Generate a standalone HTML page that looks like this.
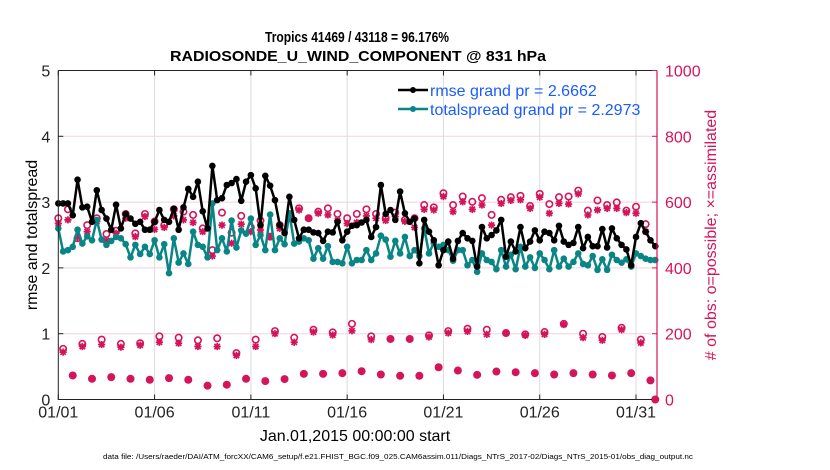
<!DOCTYPE html>
<html><head><meta charset="utf-8">
<style>
html,body{margin:0;padding:0;background:#fff;}
svg{display:block;font-family:"Liberation Sans",sans-serif;}
</style></head>
<body>
<svg id="chart" width="830" height="470" viewBox="0 0 830 470" xmlns="http://www.w3.org/2000/svg">
  <text x="357" y="42" text-anchor="middle" font-size="15" font-weight="bold" textLength="184" lengthAdjust="spacingAndGlyphs">Tropics 41469 / 43118 = 96.176%</text>
  <text x="358" y="61" text-anchor="middle" font-size="15" font-weight="bold" textLength="376" lengthAdjust="spacingAndGlyphs">RADIOSONDE_U_WIND_COMPONENT @ 831 hPa</text>
  <g id="grid"></g>
  <g id="series"></g>
  <g id="axes"></g>
  <text transform="translate(37,235) rotate(-90)" text-anchor="middle" font-size="16">rmse and totalspread</text>
  <text transform="translate(716,235) rotate(-90)" text-anchor="middle" font-size="16" fill="#d4145a">#  of obs: o=possible; ×=assimilated</text>
  <text x="355" y="441" text-anchor="middle" font-size="16">Jan.01,2015 00:00:00 start</text>
  <text x="398" y="459" text-anchor="middle" font-size="7.5" textLength="590" lengthAdjust="spacingAndGlyphs">data file: /Users/raeder/DAI/ATM_forcXX/CAM6_setup/f.e21.FHIST_BGC.f09_025.CAM6assim.011/Diags_NTrS_2017-02/Diags_NTrS_2015-01/obs_diag_output.nc</text>
  <g id="legend">
    <g>
      <line x1="398" y1="90" x2="428" y2="90" stroke="#000" stroke-width="2.5"/>
      <circle cx="413" cy="90" r="3" fill="#000"/>
      <text x="430" y="96" font-size="16" fill="#1a5cff">rmse grand pr = 2.6662</text>
    </g>
    <g>
      <line x1="398" y1="109" x2="428" y2="109" stroke="#0a8585" stroke-width="2.5"/>
      <circle cx="413" cy="109" r="3" fill="#0a8585"/>
      <text x="430" y="115" font-size="16" fill="#1a5cff">totalspread grand pr = 2.2973</text>
    </g>
  </g>
</svg>
<script>
// ---- data (quarter-day steps: 00Z, 06Z, 12Z, 18Z; day 0 = 01/01) ----
const rmse = [2.98,2.98,2.98,2.80, 3.34,2.92,2.93,2.70, 3.18,2.88,2.75,2.58, 2.96,2.60,2.82,2.75,
 2.67,2.70,2.58,2.58, 2.70,2.88,2.73,2.70, 2.90,2.58,2.92,3.20, 3.08,3.31,2.86,2.60,
 3.55,3.03,3.06,3.26, 3.29,3.35,3.02,3.31, 3.41,3.21,2.65,3.40, 3.25,3.03,2.65,2.53,
 3.08,2.73,2.45,2.58, 2.58,2.54,2.53,2.41, 2.55,2.54,2.70,2.42, 2.55,2.64,2.65,2.69,
 2.73,2.47,2.62,3.26, 2.82,2.88,2.73,3.16, 2.83,2.70,2.75,2.07, 2.73,2.55,2.42,2.04,
 2.27,2.40,2.14,2.41, 2.53,2.45,2.41,2.02, 2.62,2.45,2.50,2.57, 2.73,2.17,2.40,2.25,
 2.62,2.30,2.40,2.57, 2.42,2.55,2.53,2.42, 2.64,2.40,2.35,2.38, 2.62,2.30,2.47,2.33,
 2.33,2.59,2.31,2.60, 2.45,2.35,2.28,2.04, 2.47,2.68,2.55,2.42, 2.33];
const spread = [2.60,2.25,2.27,2.32, 2.58,2.37,2.48,2.42, 2.73,2.43,2.35,2.41, 2.47,2.45,2.36,2.16,
 2.35,2.21,2.32,2.21, 2.42,2.16,2.36,1.92, 2.45,2.08,2.22,2.06, 2.55,2.35,2.32,2.16,
 2.98,2.27,2.45,2.25, 2.72,2.31,2.57,2.52, 2.75,2.35,2.50,2.27, 2.81,2.27,2.45,2.36,
 2.83,2.37,2.40,2.45, 2.42,2.14,2.30,2.14, 2.33,2.09,2.09,2.07, 2.32,2.07,2.12,2.12,
 2.27,2.12,2.22,2.49, 2.43,2.17,2.41,2.22, 2.47,2.18,2.27,2.18, 2.60,2.22,2.38,2.32,
 2.35,2.27,2.11,2.27, 2.27,2.04,2.12,1.94, 2.22,2.12,2.09,1.98, 2.27,2.02,2.20,1.98,
 2.32,2.02,2.16,2.00, 2.22,2.12,1.98,2.27, 2.02,2.14,2.02,2.09, 2.22,2.06,2.04,2.18,
 1.97,2.13,1.97,2.20, 2.12,2.08,2.13,2.02, 2.22,2.18,2.14,2.12, 2.12];
// top band: 00Z and 12Z of each day
const topPossible = [551,578, 490,530, 551,503, 513,564, 505,564, 541,530, 578,571, 561,520, 454,568, 507,558,
 523,544, 495,530, 556,581, 551,571, 581,564, 551,564, 578,564, 551,568, 546,551, 591,584,
 627,591, 617,601, 612,561, 607,615, 619,588, 625,594, 615,617, 635,574, 605,591, 599,574, 586,533, 0];
const topAssim = [535,546, 493,510, 541,483, 505,551, 495,556, 517,523, 558,546, 538,510, 436,530, 475,533,
 510,515, 495,520, 551,576, 551,566, 561,544, 535,538, 558,551, 544,556, 541,523, 578,576,
 617,571, 601,578, 591,530, 596,605, 607,581, 615,566, 596,594, 625,561, 576,581, 581,568, 566,510, 0];
// 06Z of each day
const midPossible = [154,169,182,169,171,192,188,180,186,141,182,208,188,212,204,230,192,184,184,195,208,215,212,202,198,205,230,200,190,218,182];
const midAssim = [144,161,167,159,165,174,171,161,161,134,161,200,174,205,196,209,182,184,184,190,202,207,198,202,195,198,228,188,180,212,172];
// 18Z of each day
const lowPossible = [73,63,68,63,60,65,60,42,45,63,56,62,78,78,80,86,76,72,72,98,88,75,85,83,80,76,80,76,73,80,58];
const lowAssim = [73,63,68,63,60,65,60,42,45,63,56,62,78,78,80,86,76,72,72,98,88,75,85,83,80,76,80,76,73,80,58];
const xTickLabels = ["01/01","01/06","01/11","01/16","01/21","01/26","01/31"];
const xTickDays = [0,5,10,15,20,25,30];
const leftTicks = [0,1,2,3,4,5];
const rightTicks = [0,200,400,600,800,1000];

// ---- scales ----
const X0=58.3, X1=657, Y0=399.5, Y1=70.5, DMAX=31.09;
const MAG="#d4145a", TEAL="#0a8585";
function xs(d){return X0+(d/DMAX)*(X1-X0);}
function yl(v){return Y0-(v/5)*(Y0-Y1);}
function yr(v){return Y0-(v/1000)*(Y0-Y1);}
const NS="http://www.w3.org/2000/svg";
function mk(tag,attrs,parent){const e=document.createElementNS(NS,tag);for(const k in attrs)e.setAttribute(k,attrs[k]);parent.appendChild(e);return e;}
const grid=document.getElementById('grid'), series=document.getElementById('series'), axes=document.getElementById('axes');

// grid
xTickDays.forEach((d,i)=>{ if(i>0){const l=mk('line',{x1:xs(d),x2:xs(d),y1:Y1,y2:Y0,stroke:'#dcdcdc','stroke-width':1},grid);

}});
rightTicks.forEach((v,i)=>{ if(i>0&&i<rightTicks.length-1){const l=mk('line',{x1:X0,x2:X1,y1:yr(v),y2:yr(v),stroke:'#f0d3df','stroke-width':1},grid);

}});

// obs markers
function circ(x,y,name){const c=mk('circle',{cx:x,cy:y,r:3.2,fill:'none',stroke:MAG,'stroke-width':1.6},series);

}
function star(x,y,name){const s=3.6;const p=mk('path',{d:`M${x-s},${y}H${x+s}M${x},${y-s}V${y+s}M${x-2.7},${y-2.7}L${x+2.7},${y+2.7}M${x-2.7},${y+2.7}L${x+2.7},${y-2.7}`,stroke:MAG,'stroke-width':1.7},series);

}
topPossible.forEach((v,i)=>circ(xs(i*0.5),yr(v),'obs-possible-marker'));
topAssim.forEach((v,i)=>star(xs(i*0.5),yr(v),'obs-assimilated-marker'));
midPossible.forEach((v,i)=>circ(xs(i+0.25),yr(v),'obs-possible-marker'));
midAssim.forEach((v,i)=>star(xs(i+0.25),yr(v),'obs-assimilated-marker'));
lowPossible.forEach((v,i)=>circ(xs(i+0.75),yr(v),'obs-possible-marker'));
lowAssim.forEach((v,i)=>star(xs(i+0.75),yr(v),'obs-assimilated-marker'));

// lines
function drawLine(arr,color,name){
  const pts=arr.map((v,i)=>xs(i*0.25).toFixed(1)+','+yl(v).toFixed(1)).join(' ');
  const pl=mk('polyline',{points:pts,fill:'none',stroke:color,'stroke-width':2.5,'stroke-linejoin':'round'},series);
  
  
  arr.forEach((v,i)=>{const c=mk('circle',{cx:xs(i*0.25),cy:yl(v),r:3.3,fill:color},series);
    
    });
}
drawLine(spread,TEAL,'totalspread');
drawLine(rmse,'#000','rmse');

// axes
const bx=mk('path',{d:`M${X0},${Y1}V${Y0}H${X1}M${X0},${Y1}H${X1}`,fill:'none',stroke:'#222','stroke-width':1},axes);


const ra=mk('line',{x1:X1,x2:X1,y1:Y1,y2:Y0,stroke:MAG,'stroke-width':1.2},axes);


xTickDays.forEach((d,i)=>{
  mk('line',{x1:xs(d),x2:xs(d),y1:Y0,y2:Y0-5,stroke:'#222'},axes);
  mk('line',{x1:xs(d),x2:xs(d),y1:Y1,y2:Y1+5,stroke:'#222'},axes);
  const t=mk('text',{x:xs(d),y:Y0+18,'text-anchor':'middle','font-size':16,fill:'#222'},axes);
  t.textContent=xTickLabels[i];
  
  
});
leftTicks.forEach(v=>{
  mk('line',{x1:X0,x2:X0+5,y1:yl(v),y2:yl(v),stroke:'#222'},axes);
  const t=mk('text',{x:X0-8,y:yl(v)+6,'text-anchor':'end','font-size':16,fill:'#222'},axes);
  t.textContent=v;
  
  
});
rightTicks.forEach(v=>{
  mk('line',{x1:X1-5,x2:X1,y1:yr(v),y2:yr(v),stroke:MAG},axes);
  const t=mk('text',{x:X1+8,y:yr(v)+6,'text-anchor':'start','font-size':16,fill:MAG},axes);
  t.textContent=v;
  
  
});
</script>
</body></html>
